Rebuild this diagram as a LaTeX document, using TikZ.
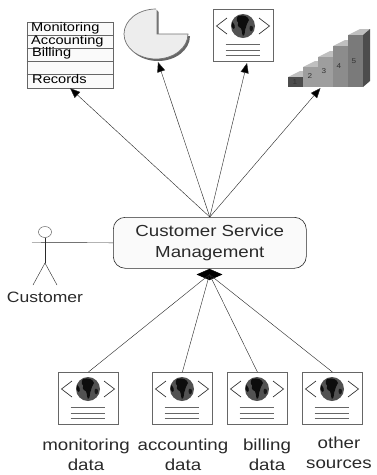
\documentclass[tikz,border=0pt]{standalone}
\usepackage{fontspec}
\setmainfont[FakeStretch=1.17]{Liberation Sans}
\usetikzlibrary{shapes.geometric,arrows.meta}
\definecolor{ink}{HTML}{2A2A2A}
\definecolor{frame}{HTML}{666666}
\tikzset{
  x=1pt,y=-1pt,
  conn/.style={draw=ink,line width=0.42pt},
  arrowconn/.style={conn,-{Triangle[length=10pt,width=8pt,fill=black]}},
  docbox/.style={draw=frame,fill=white,line width=0.8pt,minimum width=60pt,minimum height=52pt,inner sep=0pt,anchor=north west},
  rule/.style={draw=frame,line width=0.55pt},
  chev/.style={draw=ink,line width=0.65pt},
  lbl/.style={font=\fontsize{16}{20}\selectfont,text=ink,align=center,inner sep=0pt},
  rowtxt/.style={font=\fontsize{12.5}{13}\selectfont,text=black,anchor=west,inner sep=0pt},
  stepno/.style={font=\fontsize{7}{8}\selectfont,text=black!80,inner sep=0pt},
}
\newcommand{\docicon}[3]{%
  \node[docbox] (#1) at (#2,#3) {};
  \begin{scope}[shift={(#2,#3)}]
    \draw[chev] (14,9) -- (3.5,17) -- (14,25);
    \draw[chev] (46,9) -- (56.5,17) -- (46,25);
    \fill[black!68] (30,17) circle[radius=12];
    \fill[black!95] (25,7) .. controls (30,5.5) and (35,7) .. (36,11) .. controls (33,13) and (35,16) .. (33,18) .. controls (31,22) and (33,25) .. (30,27) .. controls (28,24) and (30,19) .. (26,18) .. controls (23,16) and (27,14) .. (24,12) .. controls (23,10) and (24,8) .. (25,7);
    \fill[black!95] (19,13) .. controls (21,14) and (23,18) .. (21,20) .. controls (19,20) and (18,16) .. (19,13);
    \fill[black!90] (37,17) .. controls (40,16) and (41,19) .. (39,22) .. controls (37,23) and (36,20) .. (37,17);
    \draw[rule] (12.5,35) -- (46.5,35);
    \draw[rule] (12.5,41) -- (46.5,41);
    \draw[rule] (12.5,46) -- (46.5,46);
  \end{scope}}
\begin{document}
\begin{tikzpicture}
\useasboundingbox (0,0) rectangle (376,475);
\fill[white] (0,0) rectangle (376,475);
% table
\node[draw=frame,fill=black!2,line width=0.7pt,minimum width=86.5pt,minimum height=65.5pt,inner sep=0pt,anchor=north west] (tbl) at (26.5,22) {};
\draw[rule] (26.5,35) -- (113,35);
\draw[rule] (26.5,48) -- (113,48);
\draw[rule] (26.5,61) -- (113,61);
\draw[rule] (26.5,74) -- (113,74);
\node[rowtxt] (r1) at (31,28) {Monitoring};
\node[rowtxt] (r2) at (31,41) {Accounting};
\node[rowtxt] (r3) at (32,53.5) {Billing};
\node[rowtxt] (r4) at (32,79.5) {Records};
% pie
\fill[black!60] (158.5,12) -- (158.5,36) -- (190,36) arc[start angle=0,end angle=-270,x radius=32,y radius=-25];
\draw[draw=black!55,fill=black!7,line width=0.7pt] (157,10) -- (157,34) -- (188,34) arc[start angle=0,end angle=-270,x radius=32,y radius=-25] ;
\coordinate (pietip) at (158,62);
% top document
\docicon{topdoc}{213}{9}
\coordinate (doctip) at (247,63);
% stairs
\fill[black!25] (288,77) -- (300,71) -- (315,71) -- (303,77) -- cycle;
\fill[black!25] (303,67) -- (315,61) -- (330,61) -- (318,67) -- cycle;
\fill[black!25] (318,57) -- (330,51) -- (345,51) -- (333,57) -- cycle;
\fill[black!25] (333,46) -- (345,40) -- (360,40) -- (348,46) -- cycle;
\fill[black!25] (348,35) -- (360,29) -- (370,29) -- (363,35) -- cycle;
\fill[black!70] (288,77) rectangle (303,87);
\fill[black!38] (303,67) rectangle (318,87);
\fill[black!38] (318,57) rectangle (333,87);
\fill[black!45] (333,46) rectangle (348,87);
\fill[black!52] (348,35) rectangle (363,87);
\fill[black!70] (363,35) -- (370,29) -- (370,81) -- (363,87) -- cycle;
\node[stepno] (s1) at (295,82) {1};
\node[stepno] (s2) at (310,76) {2};
\node[stepno] (s3) at (324,71) {3};
\node[stepno] (s4) at (339,66) {4};
\node[stepno] (s5) at (354,61) {5};
\coordinate (stairtip) at (320.5,88);
% service
\node[draw=ink,fill=black!2,line width=0.6pt,rounded corners=12pt,minimum width=193pt,minimum height=51pt,inner sep=0pt,anchor=north west,lbl,font=\fontsize{16}{20.5}\selectfont] (svc) at (113,217) {Customer Service\\Management};
% actor
\node[draw=frame,fill=white,ellipse,minimum width=13pt,minimum height=11pt,inner sep=0pt,line width=0.5pt] (head) at (45,232) {};
\coordinate (armL) at (32,242.5);
\coordinate (hip) at (45,263);
\coordinate (legL) at (33,285);
\coordinate (legR) at (57,285);
\draw[conn] (head) -- (hip);
\draw[conn] (armL) -- (svc.west);
\draw[conn] (legL) -- (hip) -- (legR);
\node[lbl,font=\fontsize{15}{20}\selectfont] (cust) at (45,297) {Customer};
% documents and diamond
\docicon{d1}{58}{372}
\docicon{d2}{152}{372}
\docicon{d3}{227}{372}
\docicon{d4}{302}{372}
\node[diamond,fill=black,draw=black,minimum width=25pt,minimum height=11pt,inner sep=0pt] (dia) at (209.5,274.5) {};
\draw[conn] (dia.center) -- (d1.north);
\draw[conn] (dia.center) -- (d2.north);
\draw[conn] (dia.center) -- (d3.north);
\draw[conn] (dia.center) -- (d4.north);
% arrows
\draw[arrowconn] (svc.north) -- (tbl.south);
\draw[arrowconn] (svc.north) -- (pietip);
\draw[arrowconn] (svc.north) -- (doctip);
\draw[arrowconn] (svc.north) -- (stairtip);
% labels
\node[lbl] (l1) at (86,455) {monitoring\\data};
\node[lbl] (l2) at (183,455) {accounting\\data};
\node[lbl] (l3) at (267,455) {billing\\data};
\node[lbl] (l4) at (339,453) {other\\sources};
\end{tikzpicture}
\end{document}
